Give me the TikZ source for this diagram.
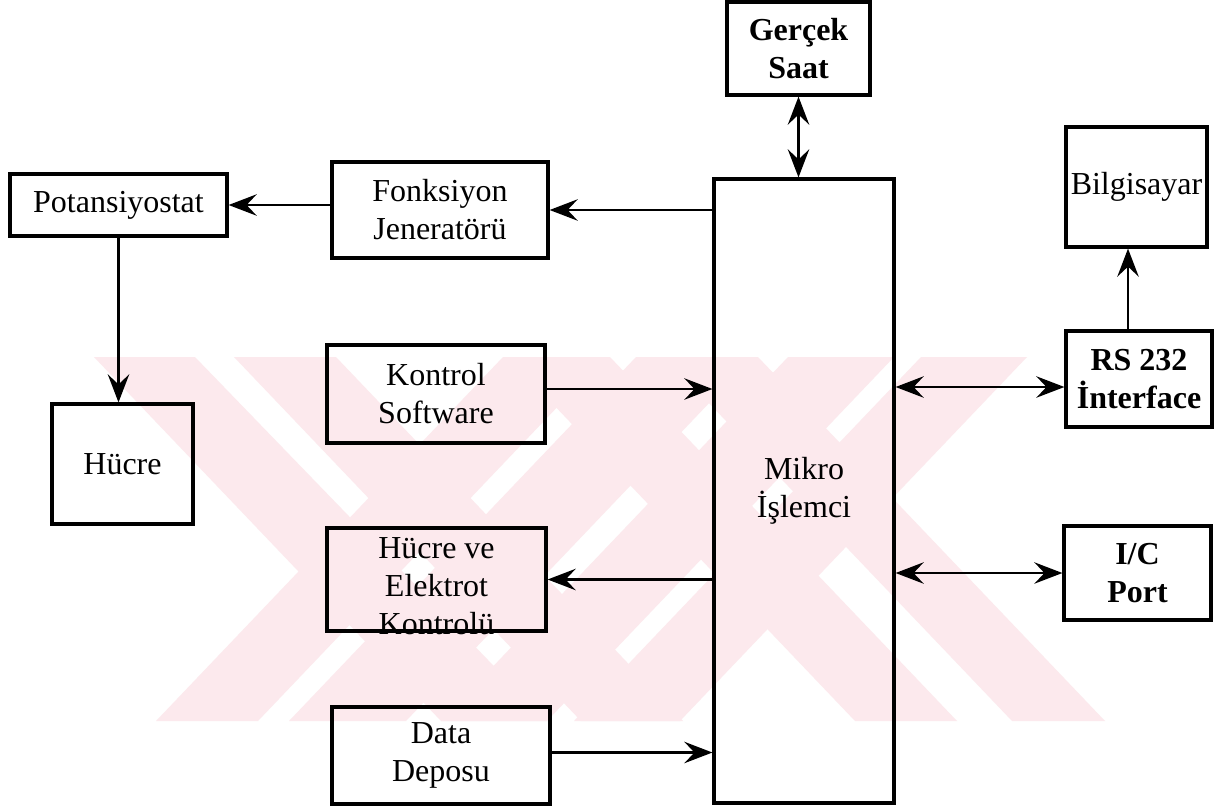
\documentclass[tikz,border=0pt]{standalone}
\usepackage{fontspec}
\setmainfont{Liberation Serif}
\usetikzlibrary{arrows.meta,calc}
\definecolor{wm}{RGB}{252,233,237}
\newcommand\wmstripe[4]{\fill[wm] (#1,357) -- (#2,357) -- (#4,721) -- (#3,721) -- cycle;}
\begin{document}
\begin{tikzpicture}[x=0.75pt,y=-0.75pt,
  lbl/.style={font=\fontsize{24}{28.5}\selectfont},
  box/.style={draw, line width=2.4pt, inner sep=0pt, align=center, lbl},
  boldbox/.style={box, font=\fontsize{24}{28.5}\selectfont\bfseries},
  sz/.style 2 args={minimum width=#1*0.75pt, minimum height=#2*0.75pt},
  txt/.style={inner sep=0pt, align=center, lbl},
  tip/.tip={Stealth[length=21pt,width=16pt,inset=7.5pt]},
  arr/.style={line width=2.2pt, -tip},
  darr/.style={line width=2.2pt, tip-tip},
]
\useasboundingbox (0,0) rectangle (1219,807);
\fill[white] (0,0) rectangle (1219,807);
% watermark
\wmstripe{94}{195}{441}{547}
\wmstripe{234}{336}{581}{683}
\wmstripe{503}{605}{156}{258}
\wmstripe{636}{753}{289}{406}
\wmstripe{508}{610}{855}{957}
\wmstripe{665}{758}{1012}{1105}
\wmstripe{788}{894}{441}{547}
\wmstripe{921}{1027}{574}{680}
% boxes
\node[boldbox, sz={143}{93}] (saat) at (798.5,48.5) {Gerçek\\Saat};
\node[box, sz={180}{624}] (mikro) at (804,491) {Mikro\\İşlemci};
\node[box, sz={141}{120}] (bilg) at (1136.5,187) {Bilgisayar};
\node[boldbox, sz={146}{96}] (rs) at (1139,379) {RS 232\\İnterface};
\node[boldbox, sz={147}{94}] (ic) at (1137.5,573) {I/C\\Port};
\node[box, sz={141}{120}] (hucre) at (122.5,464) {Hücre};
\node[box, sz={217}{62}] (pot) at (118.5,205) {Potansiyostat};
\node[box, sz={216}{96}] (fonk) at (440,210) {Fonksiyon\\Jeneratörü};
\node[box, sz={218}{98}] (kont) at (436,394) {Kontrol\\Software};
\node[box, sz={219}{103}] (hve) at (436.5,579.5) {};
\node[txt] (hvetxt) at (436.5,586) {Hücre ve\\Elektrot\\Kontrolü};
\node[box, sz={218}{97}] (data) at (441,755.5) {Data\\Deposu};
% connectors
\coordinate (kout) at ($(kont.east)+(0,-5)$);
\coordinate (dout) at ($(data.east)+(0,-3)$);
\coordinate (rsin) at ($(rs.west)+(0,8)$);
\coordinate (rsup) at ($(rs.north)+(-11,0)$);
\draw[arr] (fonk.west |- pot.east) -- (pot.east);
\draw[arr] (mikro.west |- fonk.east) -- (fonk.east);
\draw[arr] (kout) -- (kout -| mikro.west);
\draw[arr] (mikro.west |- hve.east) -- (hve.east);
\draw[arr] (dout) -- (dout -| mikro.west);
\draw[arr] (pot.south) -- (pot.south |- hucre.north);
\draw[darr] (saat.south) -- (saat.south |- mikro.north);
\draw[darr] (rsin -| mikro.east) -- (rsin);
\draw[darr] (mikro.east |- ic.west) -- (ic.west);
\draw[arr] (rsup) -- (rsup |- bilg.south);
\end{tikzpicture}
\end{document}
